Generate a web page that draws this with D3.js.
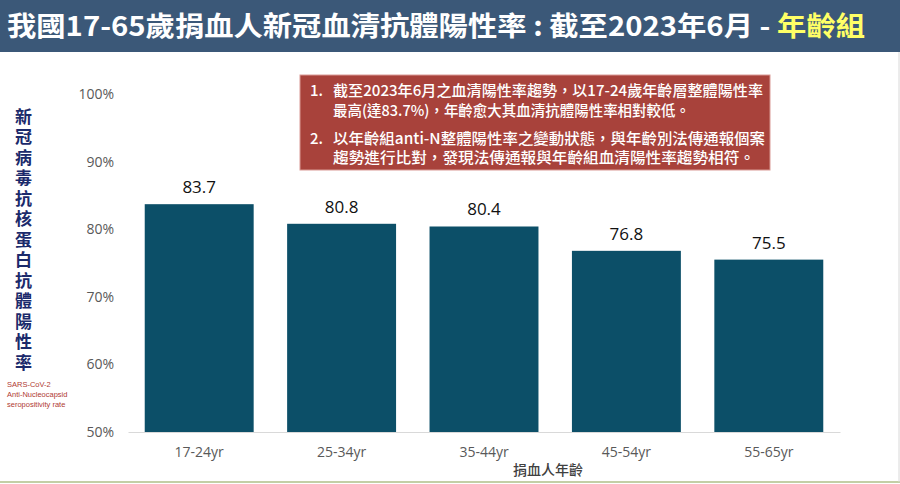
<!DOCTYPE html>
<html lang="zh-Hant-TW">
<head>
<meta charset="utf-8">
<script src="https://cdn.jsdelivr.net/npm/d3@7"></script>
<style>
    body { margin: 0; background: #fff; }
    svg { display: block; }
</style>
</head>
<body>
<script>
// chart data
var ageGroups = ["17-24yr", "25-34yr", "35-44yr", "45-54yr", "55-65yr"];
var positivity = [83.7, 80.8, 80.4, 76.8, 75.5];
var yTicks = [50, 60, 70, 80, 90, 100];
var yTitle = "新冠病毒抗核蛋白抗體陽性率";
var yNoteLines = ["SARS-CoV-2", "Anti-Nucleocapsid", "seropositivity rate"];
var noteLines = [
    {num: "1.", text: "截至2023年6月之血清陽性率趨勢，以17-24歲年齡層整體陽性率", len: 430},
    {num: "",   text: "最高(達83.7%)，年齡愈大其血清抗體陽性率相對較低。", len: 357},
    {num: "2.", text: "以年齡組anti-N整體陽性率之變動狀態，與年齡別法傳通報個案", len: 432},
    {num: "",   text: "趨勢進行比對，發現法傳通報與年齡組血清陽性率趨勢相符。", len: 422}
];

var W = 900, H = 484;
var cjk = "'Noto Sans CJK TC', 'Noto Sans', sans-serif";
var latin = "'Open Sans', 'Noto Sans', sans-serif";

var svg = d3.select("body").append("svg")
    .attr("width", W)
    .attr("height", H);

// header bar
svg.append("rect")
    .attr("x", 0).attr("y", 0)
    .attr("width", W).attr("height", 52)
    .attr("fill", "#3b5878");

var title = svg.append("text")
    .attr("x", 7).attr("y", 36)
    .attr("font-family", cjk)
    .attr("font-weight", "bold")
    .attr("font-size", "27px")
    .attr("fill", "#ffffff")
    .attr("textLength", 858)
    .attr("lengthAdjust", "spacingAndGlyphs");
title.append("tspan").text("我國17-65歲捐血人新冠血清抗體陽性率 : 截至2023年6月 - ");
title.append("tspan").attr("fill", "#ffff66").text("年齡組");

// bottom and right frame lines
svg.append("line")
    .attr("x1", 0).attr("x2", W).attr("y1", 482).attr("y2", 482)
    .attr("stroke", "#c3cfa6").attr("stroke-width", 2);
svg.append("line")
    .attr("x1", 899).attr("x2", 899).attr("y1", 52).attr("y2", 482)
    .attr("stroke", "#d8d8d8").attr("stroke-width", 1);

// scales
var xScale = d3.scaleBand()
    .domain(ageGroups)
    .range([128, 840])
    .paddingInner(0.235)
    .paddingOuter(0.1175);

var yScale = d3.scaleLinear()
    .domain([50, 100])
    .range([432, 94]);

// y axis (labels only)
var yAxis = d3.axisLeft(yScale)
    .tickValues(yTicks)
    .tickSize(0)
    .tickPadding(14)
    .tickFormat(function(d) { return d + "%"; });

var yg = svg.append("g")
    .attr("transform", "translate(128,0)")
    .call(yAxis);
yg.select(".domain").remove();
yg.selectAll("text")
    .attr("font-family", latin)
    .attr("font-size", "14px")
    .attr("fill", "#595959");

// bars
svg.selectAll("rect.bar")
    .data(positivity)
    .enter()
    .append("rect")
    .attr("class", "bar")
    .attr("x", function(d, i) { return xScale(ageGroups[i]); })
    .attr("y", function(d) { return yScale(d); })
    .attr("width", xScale.bandwidth())
    .attr("height", function(d) { return yScale(50) - yScale(d); })
    .attr("fill", "#0c4f68");

// value labels
svg.selectAll("text.val")
    .data(positivity)
    .enter()
    .append("text")
    .attr("class", "val")
    .attr("x", function(d, i) { return xScale(ageGroups[i]) + xScale.bandwidth() / 2; })
    .attr("y", function(d) { return yScale(d) - 11; })
    .attr("text-anchor", "middle")
    .attr("font-family", latin)
    .attr("font-size", "17px")
    .attr("fill", "#111")
    .text(function(d) { return d.toFixed(1); });

// x axis
var xAxis = d3.axisBottom(xScale)
    .tickSize(0)
    .tickPadding(15);

var xg = svg.append("g")
    .attr("transform", "translate(0,432)")
    .call(xAxis);
xg.select(".domain")
    .attr("stroke", "#d9d9d9")
    .attr("stroke-width", 1);
xg.selectAll("text")
    .attr("font-family", latin)
    .attr("font-size", "14px")
    .attr("fill", "#595959");

// x axis title
svg.append("text")
    .attr("x", 548).attr("y", 475)
    .attr("text-anchor", "middle")
    .attr("font-family", cjk)
    .attr("font-size", "14px")
    .attr("font-weight", 500)
    .attr("fill", "#404040")
    .text("捐血人年齡");

// vertical y axis title, written top to bottom
svg.append("text")
    .attr("class", "ytitle")
    .attr("x", 23.5)
    .attr("y", 108)
    .style("writing-mode", "vertical-rl")
    .style("letter-spacing", "3.5px")
    .attr("font-family", cjk)
    .attr("font-weight", "bold")
    .attr("font-size", "17px")
    .attr("fill", "#1b2a6b")
    .text(yTitle);

// small english note under the title
svg.append("text")
    .attr("class", "ynote")
    .attr("font-family", "'Liberation Sans', Arial, sans-serif")
    .attr("font-size", "7.5px")
    .attr("fill", "#b03a33")
    .selectAll("tspan")
    .data(yNoteLines)
    .enter()
    .append("tspan")
    .attr("x", 7)
    .attr("y", function(d, i) { return 387 + i * 10; })
    .text(function(d) { return d; });

// annotation box
svg.append("rect")
    .attr("x", 300).attr("y", 75)
    .attr("width", 470).attr("height", 95)
    .attr("fill", "#a8423b")
    .attr("stroke", "#d99a95")
    .attr("stroke-width", 1);

var lineY = [96, 116, 144, 163];
var notes = svg.selectAll("g.note")
    .data(noteLines)
    .enter()
    .append("g")
    .attr("class", "note");
notes.append("text")
    .attr("x", 310)
    .attr("y", function(d, i) { return lineY[i]; })
    .attr("font-family", cjk)
    .attr("font-weight", 500)
    .attr("font-size", "15px")
    .attr("fill", "#fff")
    .text(function(d) { return d.num; });
notes.append("text")
    .attr("x", 333)
    .attr("y", function(d, i) { return lineY[i]; })
    .attr("font-family", cjk)
    .attr("font-weight", 500)
    .attr("font-size", "15px")
    .attr("fill", "#fff")
    .attr("textLength", function(d) { return d.len; })
    .attr("lengthAdjust", "spacingAndGlyphs")
    .text(function(d) { return d.text; });
</script>
</body>
</html>
